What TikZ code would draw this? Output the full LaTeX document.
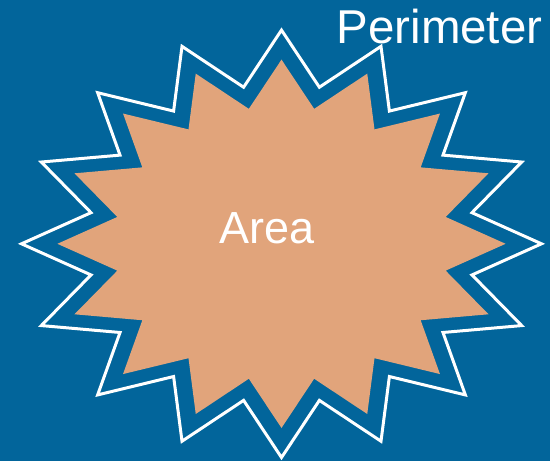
\documentclass[tikz,border=0pt]{standalone}
\usepackage{fontspec}
\setmainfont{Liberation Sans}
\definecolor{bgblue}{RGB}{2,101,155}
\definecolor{areafill}{RGB}{225,164,123}
\tikzset{
  lbl/.style={text=white, inner sep=0pt, anchor=base},
  outline/.style={draw=white, line width=3pt, line join=miter, miter limit=20},
}
\begin{document}
\begin{tikzpicture}[x={(1pt,0pt)}, y={(0pt,-1pt)}]
  \fill[bgblue] (0,0) rectangle (550,461);
  \useasboundingbox (0,0) rectangle (550,461);
  % outer perimeter star
  \path[outline] (281.5,30.1)
    \foreach \i [evaluate=\i as \r using {mod(\i,2)==0 ? 1 : 0.747}] in {1,...,31}
      { -- ({281.5+260*\r*sin(\i*11.25)},{243.8-213.7*\r*cos(\i*11.25)}) } -- cycle;
  % inner area star
  \path[fill=areafill] (281.5,59.6)
    \foreach \i [evaluate=\i as \r using {mod(\i,2)==0 ? 1 : 0.747}] in {1,...,31}
      { -- ({281.5+224.1*\r*sin(\i*11.25)},{243.8-184.2*\r*cos(\i*11.25)}) } -- cycle;
  \node[lbl, font=\fontsize{45}{45}\selectfont] (area) at (267.5,243.5) {Area};
  \node[lbl, font=\fontsize{47.5}{47.5}\selectfont] (perim) at (439.5,43) {Perimeter};
\end{tikzpicture}
\end{document}
